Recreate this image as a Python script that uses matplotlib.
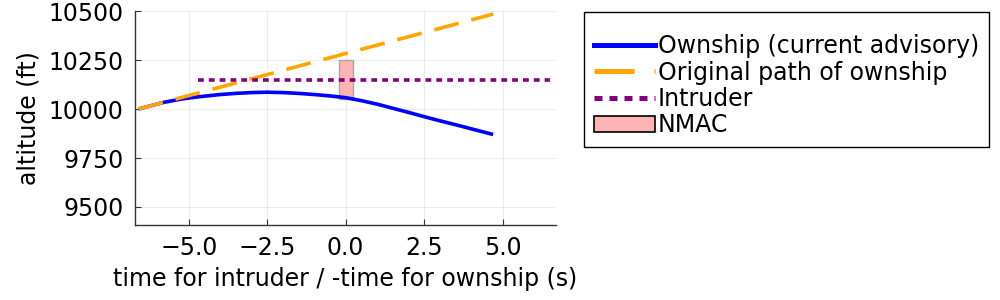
import matplotlib
matplotlib.use("Agg")
import matplotlib.pyplot as plt
from matplotlib.patches import Rectangle, Patch
from matplotlib.lines import Line2D

# Data
own_t = [-6.6, -5.8, -5.2, -4.6, -4.0, -3.5, -3.0, -2.5, -2.0, -1.5, -1.0, -0.5,
         0.0, 0.5, 1.0, 1.5, 2.0, 2.5, 3.0, 3.5, 4.0, 4.7]
own_alt = [10000, 10034, 10052, 10064, 10074, 10080, 10084, 10086, 10084, 10080, 10074, 10067,
           10058, 10043, 10025, 10004, 9983, 9961, 9940, 9920, 9899, 9870]
orig_t = [-6.6, 4.7]
orig_alt = [10000, 10485]
intr_t = [-4.7, 6.5]
intr_alt = [10150, 10150]
nmac_t = [-0.22, 0.22]
nmac_alt = [10050, 10250]

labels = ["Ownship (current advisory)", "Original path of ownship", "Intruder", "NMAC"]
xticks = [-5.0, -2.5, 0.0, 2.5, 5.0]
yticks = [9500, 9750, 10000, 10250, 10500]

plt.rcParams['font.family'] = ['DejaVu Sans']
FS = 17

fig = plt.figure(figsize=(10, 3), dpi=100)
ax = fig.add_axes([0.1347, 0.25, 0.556 - 0.1347, 0.963 - 0.25])

ax.add_patch(Rectangle((nmac_t[0], nmac_alt[0]), nmac_t[1] - nmac_t[0], nmac_alt[1] - nmac_alt[0],
                       facecolor='#ffb3b3', edgecolor='#a8a8a8', lw=1.0, zorder=2))
ax.plot(own_t, own_alt, color='#0000ff', lw=2.6, zorder=3, solid_capstyle='butt')
ax.plot(orig_t, orig_alt, color='#ffa500', lw=2.6, linestyle=(0, (7, 3.6)), zorder=4)
ax.plot(intr_t, intr_alt, color='#800080', lw=2.6, linestyle=(0, (1.6, 1.4)), zorder=4)

ax.set_xlim(-6.72, 6.70)
ax.set_ylim(9408, 10500)
ax.set_xticks(xticks)
ax.set_xticklabels([f"{v:.1f}".replace('-', '\u2212') for v in xticks])
ax.set_yticks(yticks)
ax.grid(True, color='#000000', alpha=0.07, lw=0.8)
ax.set_axisbelow(True)
for s in ['top', 'right']:
    ax.spines[s].set_visible(False)
for s in ['left', 'bottom']:
    ax.spines[s].set_color('#333333')
    ax.spines[s].set_linewidth(1.0)
ax.tick_params(direction='in', length=4, width=0.8, color='#333333', labelsize=FS, pad=8)
ax.set_xlabel("time for intruder / -time for ownship (s)", fontsize=FS, labelpad=5)
ax.set_ylabel("altitude (ft)", fontsize=FS, labelpad=6)

handles = [
    Line2D([], [], color='#0000ff', lw=3.6),
    Line2D([], [], color='#ffa500', lw=3.6, linestyle=(0, (8, 4))),
    Line2D([], [], color='#800080', lw=3.6, linestyle=(0, (1.6, 1.4))),
    Patch(facecolor='#ffb3b3', edgecolor='black', lw=1.2),
]
leg = fig.legend(handles, labels, loc='upper left', bbox_to_anchor=(0.584, 0.96),
                 bbox_transform=fig.transFigure, borderaxespad=0, fontsize=FS,
                 frameon=True, fancybox=False, edgecolor='black', framealpha=1,
                 handlelength=2.6, handletextpad=0.1, labelspacing=0.1,
                 borderpad=0.42, title=' ', title_fontsize=7)
leg.get_frame().set_linewidth(1.0)

fig.savefig("out.png", dpi=100)
